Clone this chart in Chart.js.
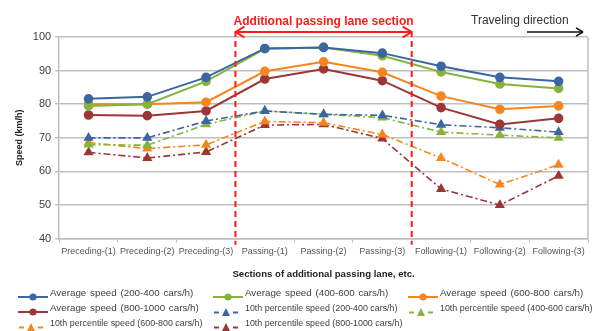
<!DOCTYPE html>
<html>
<head>
<meta charset="utf-8">
<script src="https://cdn.jsdelivr.net/npm/chart.js@4"></script>
<style>
  html, body { margin: 0; padding: 0; background: #fff; }
  #wrap { position: relative; width: 602px; height: 331px; font-family: "Liberation Sans", Arial, sans-serif; }
  #chart { position: absolute; left: 0; top: 0; }
  #legend { position: absolute; left: 0; top: 287px; width: 602px; color: #404040; }
  .row { position: absolute; left: 0; height: 14px; width: 602px; }
  .sym { position: absolute; top: 1px; }
  .txt { position: absolute; top: 0; white-space: nowrap; line-height: 12px; }
  .avg { font-size: 9.8px; word-spacing: 1px; }
  .p10 { font-size: 8.9px; }
</style>
</head>
<body>
<div id="wrap">
  <canvas id="chart" width="602" height="331"></canvas>
  <div id="legend"></div>
</div>
<script>
// sections along the road
const sections = ['Preceding-(1)', 'Preceding-(2)', 'Preceding-(3)', 'Passing-(1)', 'Passing-(2)',
  'Passing-(3)', 'Following-(1)', 'Following-(2)', 'Following-(3)'];

// average speeds (km/h)
const avg200 = [81.6, 82.2, 88.0, 96.6, 96.9, 95.2, 91.3, 88.0, 86.8];
const avg400 = [79.5, 80.0, 86.8, 96.5, 96.9, 94.4, 89.6, 86.0, 84.7];
const avg600 = [80.0, 80.0, 80.6, 89.8, 92.6, 89.5, 82.4, 78.5, 79.5];
const avg800 = [76.8, 76.6, 78.0, 87.5, 90.5, 87.0, 79.0, 74.0, 75.8];

// 10th percentile speeds (km/h)
const p10_200 = [70.0, 70.0, 75.0, 78.0, 77.0, 76.7, 73.9, 73.0, 71.7];
const p10_400 = [68.0, 67.8, 74.0, 78.0, 77.0, 76.0, 71.7, 70.8, 70.0];
const p10_600 = [68.6, 66.8, 67.9, 74.9, 74.5, 71.0, 64.0, 56.1, 62.0];
const p10_800 = [65.7, 64.0, 65.8, 73.8, 74.0, 69.8, 54.8, 50.0, 58.7];

const yTicks = [40, 50, 60, 70, 80, 90, 100];

const BLUE = '#3b66a3', GREEN = '#86b23e', ORANGE = '#f5861f', DRED = '#9d3636';
const FONT = '"Liberation Sans", Arial, sans-serif';

function avgSet(label, data, color) {
  return {
    label, data,
    borderColor: color, backgroundColor: color,
    borderWidth: 2, pointStyle: 'circle', pointRadius: 3.8,
    pointBorderColor: color, pointBackgroundColor: color, tension: 0
  };
}
function p10Set(label, data, color) {
  return {
    label, data,
    borderColor: color, backgroundColor: color,
    borderWidth: 1.6, borderDash: [7, 3, 2, 3],
    pointStyle: 'triangle', pointRadius: 4.3,
    pointBorderColor: color, pointBackgroundColor: color, tension: 0
  };
}

const datasets = [
  avgSet('Average speed (200-400 cars/h)', avg200, BLUE),
  avgSet('Average speed (400-600 cars/h)', avg400, GREEN),
  avgSet('Average speed (600-800 cars/h)', avg600, ORANGE),
  avgSet('Average speed (800-1000 cars/h)', avg800, DRED),
  p10Set('10th percentile speed (200-400 cars/h)', p10_200, BLUE),
  p10Set('10th percentile speed (400-600 cars/h)', p10_400, GREEN),
  p10Set('10th percentile speed (600-800 cars/h)', p10_600, ORANGE),
  p10Set('10th percentile speed (800-1000 cars/h)', p10_800, DRED)
];
// draw order: 10th percentile beneath averages
datasets.forEach((d, i) => { d.order = i < 4 ? 0 : 1; });

function arrowHead(ctx, x, y, dir, size) {
  ctx.beginPath();
  ctx.moveTo(x, y);
  ctx.lineTo(x - dir * size, y - size * 0.6);
  ctx.moveTo(x, y);
  ctx.lineTo(x - dir * size, y + size * 0.6);
  ctx.stroke();
}

const sectionMarks = {
  id: 'sectionMarks',
  afterDraw(chart) {
    const { ctx, chartArea, scales } = chart;
    const x = scales.x;
    const b1 = (x.getPixelForValue(2) + x.getPixelForValue(3)) / 2;
    const b2 = (x.getPixelForValue(5) + x.getPixelForValue(6)) / 2;
    const top = chartArea.top;
    ctx.save();
    // right frame line
    ctx.strokeStyle = '#bfbfbf';
    ctx.lineWidth = 1.5;
    ctx.beginPath();
    ctx.moveTo(chartArea.right, chartArea.top);
    ctx.lineTo(chartArea.right, chartArea.bottom);
    ctx.stroke();

    // red dashed section boundaries
    ctx.strokeStyle = '#ff1a1a';
    ctx.lineWidth = 2;
    ctx.setLineDash([6, 4]);
    [b1, b2].forEach(bx => {
      ctx.beginPath();
      ctx.moveTo(bx, top - 6);
      ctx.lineTo(bx, chartArea.bottom + 6);
      ctx.stroke();
    });
    ctx.setLineDash([]);
    // double arrow
    const ay = top - 5;
    ctx.beginPath();
    ctx.moveTo(b1, ay);
    ctx.lineTo(b2, ay);
    ctx.stroke();
    arrowHead(ctx, b1, ay, -1, 9);
    arrowHead(ctx, b2, ay, 1, 9);
    ctx.fillStyle = '#ff1a1a';
    ctx.font = 'bold 12px ' + FONT;
    ctx.textAlign = 'center';
    ctx.textBaseline = 'alphabetic';
    ctx.fillText('Additional passing lane section', (b1 + b2) / 2, top - 12);

    // traveling direction
    ctx.fillStyle = '#333';
    ctx.font = '12px ' + FONT;
    ctx.textAlign = 'left';
    ctx.fillText('Traveling direction', 471, top - 13);
    ctx.strokeStyle = '#111';
    ctx.lineWidth = 1.5;
    ctx.beginPath();
    ctx.moveTo(527, ay);
    ctx.lineTo(583, ay);
    ctx.stroke();
    arrowHead(ctx, 583, ay, 1, 7);
    ctx.restore();
  }
};

new Chart(document.getElementById('chart'), {
  type: 'line',
  data: { labels: sections, datasets },
  options: {
    responsive: false,
    animation: false,
    layout: { padding: { top: 37, right: 14, bottom: 51, left: 14 } },
    plugins: { legend: { display: false }, tooltip: { enabled: false } },
    scales: {
      x: {
        offset: true,
        grid: { display: true, drawOnChartArea: false, offset: true, tickLength: 4, color: '#bfbfbf' },
        border: { color: '#bfbfbf', width: 1.5 },
        ticks: { color: '#555', font: { size: 9, family: FONT }, padding: 3, maxRotation: 0, autoSkip: false },
        title: { display: true, text: 'Sections of additional passing lane, etc.', color: '#222', font: { size: 9.6, weight: 'bold', family: FONT }, padding: { top: 9, bottom: 0 } }
      },
      y: {
        min: 40, max: 100,
        afterBuildTicks(axis) { axis.ticks = yTicks.map(v => ({ value: v })); },
        grid: { color: '#bfbfbf', lineWidth: 1.5, tickLength: 4 },
        border: { color: '#bfbfbf', width: 1.5 },
        ticks: { color: '#404040', font: { size: 11, family: FONT }, padding: 4 },
        title: { display: true, text: 'Speed (km/h)', color: '#222', font: { size: 9, weight: 'bold', family: FONT }, padding: { top: 0, bottom: 4 } }
      }
    }
  },
  plugins: [sectionMarks]
});

// legend in three columns as in the figure
const legendRows = [[0, 1, 2], [3, 4, 5], [6, 7]];
const symX = [18, 213, 408];
const txtX = [50, 245, 440];
const legend = document.getElementById('legend');
legendRows.forEach((row, r) => {
  const rowDiv = document.createElement('div');
  rowDiv.className = 'row';
  rowDiv.style.top = (r * 15) + 'px';
  row.forEach((di, c) => {
    const d = datasets[di];
    const col = d.borderColor;
    const sym = document.createElement('div');
    sym.className = 'sym';
    sym.style.left = symX[c] + 'px';
    if (di < 4) {
      sym.innerHTML = `<svg width="30" height="10"><line x1="0" y1="5" x2="30" y2="5" stroke="${col}" stroke-width="2"/><circle cx="15" cy="5" r="3.6" fill="${col}"/></svg>`;
    } else {
      sym.innerHTML = `<svg width="26" height="10"><line x1="1" y1="5.5" x2="6" y2="5.5" stroke="${col}" stroke-width="2"/><line x1="20" y1="5.5" x2="25" y2="5.5" stroke="${col}" stroke-width="2"/><polygon points="13,1 17,9 9,9" fill="${col}"/></svg>`;
    }
    const txt = document.createElement('div');
    txt.className = 'txt ' + (di < 4 ? 'avg' : 'p10');
    txt.style.left = txtX[c] + 'px';
    txt.textContent = d.label;
    rowDiv.appendChild(sym);
    rowDiv.appendChild(txt);
  });
  legend.appendChild(rowDiv);
});
</script>
</body>
</html>
